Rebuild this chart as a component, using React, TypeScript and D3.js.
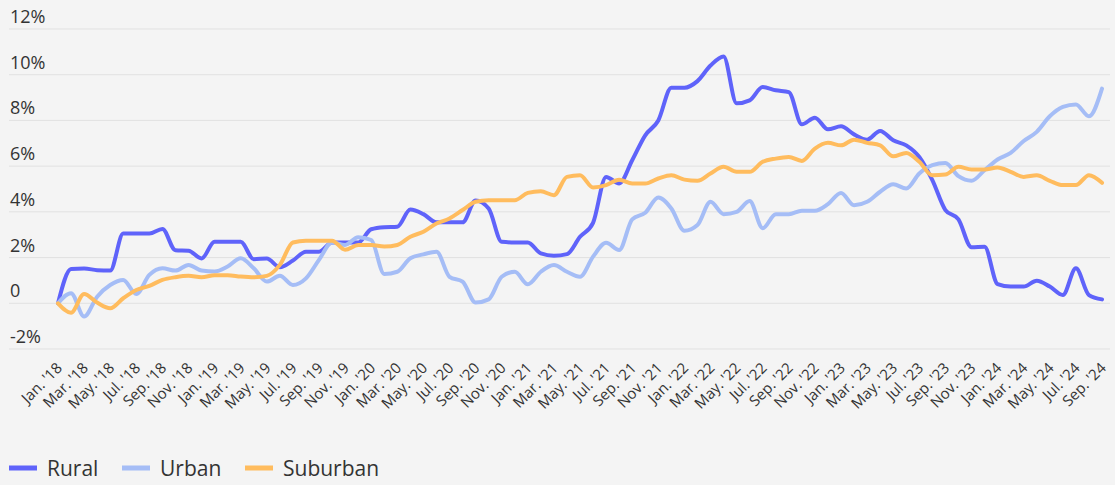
import { useMemo } from "react";
import * as d3 from "d3";

const monthNames = ["Jan.", "Feb.", "Mar.", "Apr.", "May.", "Jun.", "Jul.", "Aug.", "Sep.", "Oct.", "Nov.", "Dec."];

// Jan 2018 .. Sep 2024, monthly
const months: string[] = [];
for (let y = 2018; y <= 2024; y++) {
  for (let m = 0; m < 12; m++) {
    if (y === 2024 && m > 8) break;
    months.push(`${monthNames[m]} '${String(y).slice(2)}`);
  }
}

const rural = [
  0, 1.5, 1.52, 1.45, 1.43, 3.05, 3.05, 3.05, 3.25, 2.32, 2.3, 1.96, 2.69, 2.69, 2.69, 1.93,
  1.96, 1.58, 1.87, 2.26, 2.26, 2.66, 2.66, 2.66, 3.24, 3.33, 3.35, 4.1, 3.9, 3.54,
  3.54, 3.54, 4.5, 4.15, 2.69, 2.66, 2.66, 2.18, 2.08, 2.15, 2.91, 3.52, 5.53, 5.24,
  6.26, 7.35, 8.0, 9.43, 9.43, 9.72, 10.4, 10.8, 8.75, 8.88, 9.46, 9.32, 9.24, 7.83,
  8.12, 7.61, 7.74, 7.39, 7.16, 7.54, 7.13, 6.91, 6.4, 5.39, 4.08, 3.67, 2.45, 2.47,
  0.84, 0.73, 0.73, 0.99, 0.73, 0.36, 1.53, 0.36, 0.17,
];

const urban = [
  0, 0.44, -0.58, 0.29, 0.8, 1.02, 0.41, 1.24, 1.53, 1.43, 1.68, 1.43, 1.39, 1.61, 1.97, 1.53,
  0.95, 1.2, 0.8, 1.09, 1.9, 2.66, 2.55, 2.89, 2.77, 1.28, 1.38, 1.97, 2.14, 2.26,
  1.16, 0.95, 0.03, 0.17, 1.16, 1.38, 0.83, 1.38, 1.67, 1.38, 1.16, 2.04, 2.65, 2.33,
  3.67, 3.96, 4.63, 4.15, 3.17, 3.42, 4.44, 3.9, 4.0, 4.47, 3.28, 3.9, 3.9, 4.05,
  4.05, 4.34, 4.83, 4.29, 4.44, 4.88, 5.21, 5.02, 5.68, 6.04, 6.14, 5.56, 5.36, 5.82,
  6.29, 6.58, 7.1, 7.5, 8.18, 8.59, 8.7, 8.18, 9.39,
];

const suburban = [
  0, -0.41, 0.41, 0.03, -0.22, 0.22, 0.58, 0.76, 1.02, 1.14, 1.2, 1.14, 1.23, 1.23, 1.17, 1.14,
  1.2, 1.68, 2.66, 2.74, 2.74, 2.74, 2.34, 2.55, 2.55, 2.48, 2.55, 2.91, 3.13, 3.49,
  3.71, 4.08, 4.44, 4.51, 4.51, 4.51, 4.83, 4.9, 4.73, 5.53, 5.6, 5.07, 5.17, 5.41,
  5.24, 5.24, 5.46, 5.6, 5.41, 5.36, 5.68, 5.97, 5.75, 5.75, 6.19, 6.33, 6.4, 6.23,
  6.77, 7.02, 6.91, 7.16, 7.02, 6.91, 6.43, 6.58, 6.19, 5.6, 5.63, 5.97, 5.85, 5.85,
  5.94, 5.75, 5.53, 5.6, 5.36, 5.17, 5.17, 5.6, 5.27,
];

const seriesNames = ["Rural", "Urban", "Suburban"];
const seriesColors = ["#5f63fa", "#a5bdf6", "#ffbc5e"];
const yTicks = [-2, 0, 2, 4, 6, 8, 10, 12];

const W = 1115;
const H = 485;

export default function App() {
  const allSeries = [rural, urban, suburban];

  const x = useMemo(
    () => d3.scaleLinear().domain([0, months.length - 1]).range([58, 1102]),
    []
  );
  const y = useMemo(() => d3.scaleLinear().domain([-2, 12]).range([349, 29]), []);

  const line = d3
    .line<number>()
    .x((_, i) => x(i))
    .y((d) => y(d))
    .curve(d3.curveMonotoneX);

  const font = "'Open Sans', sans-serif";

  return (
    <svg
      width={W}
      height={H}
      style={{ position: "absolute", left: 0, top: 0, background: "#f4f4f4" }}
      fontFamily={font}
    >
      <rect width={W} height={H} fill="#f4f4f4" />
      {yTicks.map((t) => (
        <g key={t}>
          <line x1={9} x2={1110} y1={y(t)} y2={y(t)} stroke="#e1e1e1" strokeWidth={1} />
          <text x={10} y={y(t) - 6} fontSize={18} fill="#333">
            {t === 0 ? "0" : `${t}%`}
          </text>
        </g>
      ))}

      {months.map((m, i) =>
        i % 2 === 0 ? (
          <text
            key={m}
            transform={`translate(${x(i) + 5},369) rotate(-45)`}
            textAnchor="end"
            fontSize={15}
            fill="#333"
          >
            {m}
          </text>
        ) : null
      )}

      {allSeries.map((s, k) => (
        <path
          key={seriesNames[k]}
          d={line(s) || ""}
          fill="none"
          stroke={seriesColors[k]}
          strokeWidth={4}
          strokeLinejoin="round"
          strokeLinecap="round"
        />
      ))}

      {/* legend */}
      {seriesNames.map((n, k) => {
        const lx = [9, 122, 245][k];
        return (
          <g key={n} transform={`translate(${lx},468)`}>
            <line x1={0} x2={28} y1={0} y2={0} stroke={seriesColors[k]} strokeWidth={5} />
            <text x={38} y={7.5} fontSize={21} fill="#333">
              {n}
            </text>
          </g>
        );
      })}
    </svg>
  );
}
